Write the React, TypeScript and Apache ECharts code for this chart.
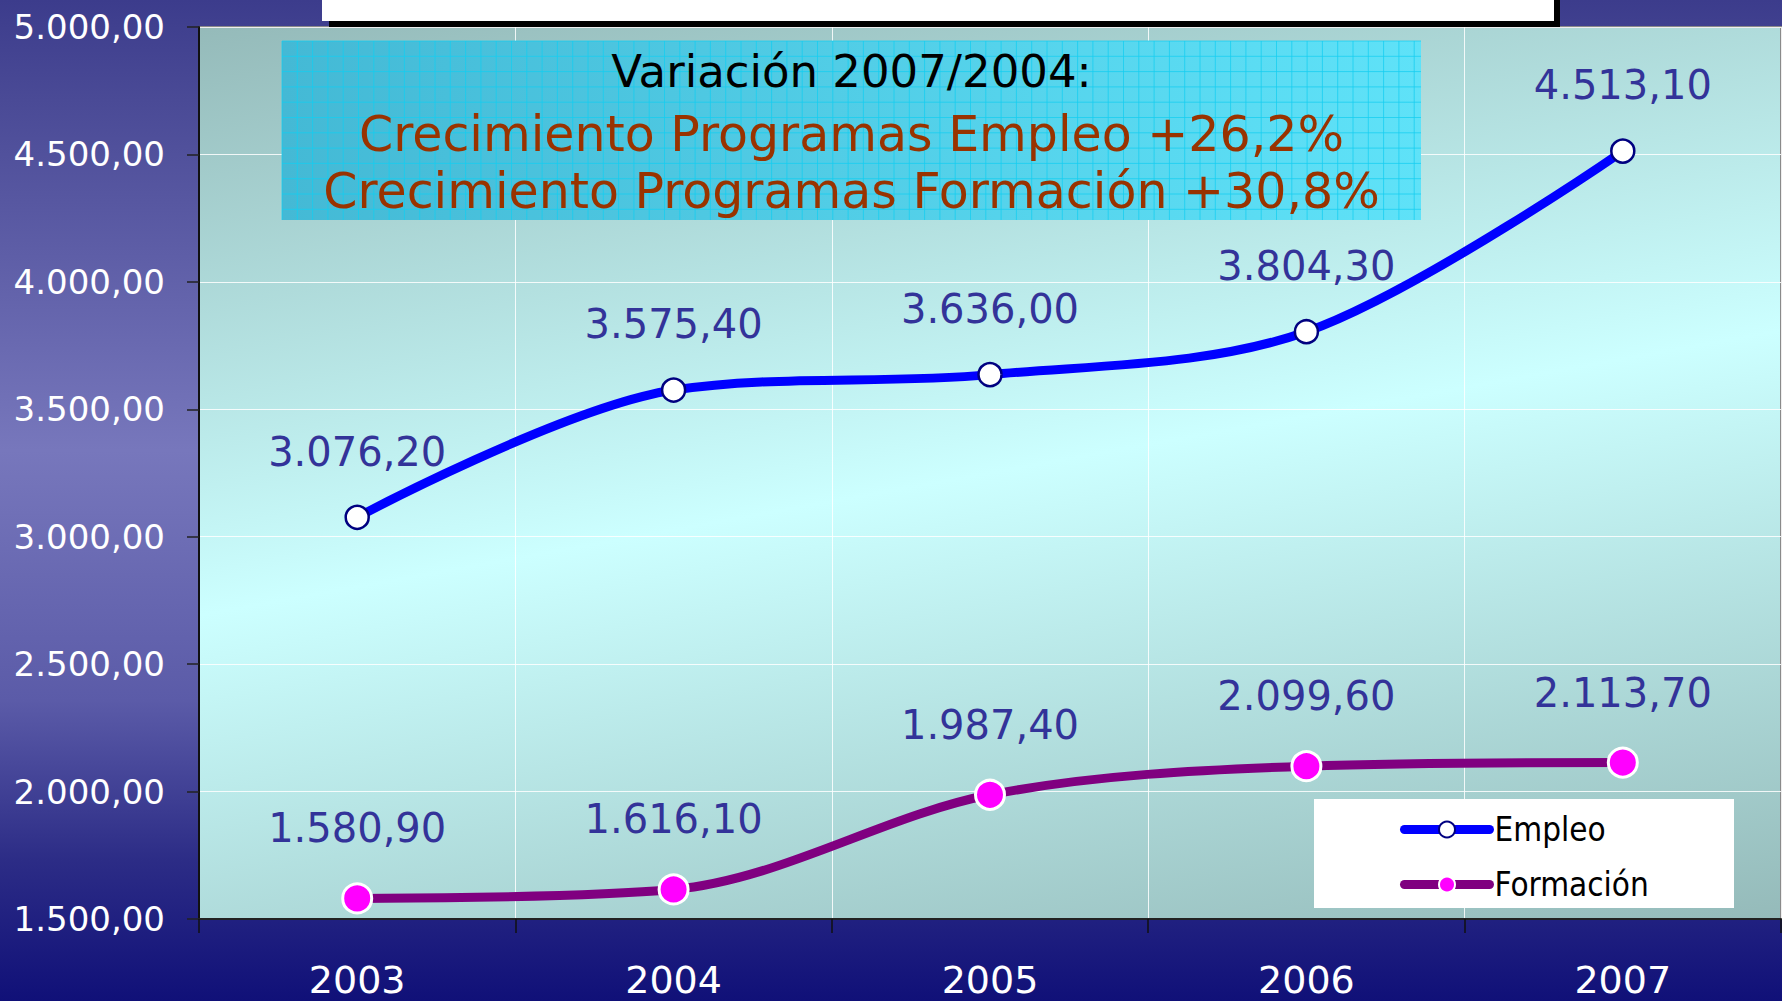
import React, { useEffect, useRef } from "react";
import * as echarts from "echarts";

const categories = ["2003", "2004", "2005", "2006", "2007"];
const empleo = [3076.2, 3575.4, 3636.0, 3804.3, 4513.1];
const formacion = [1580.9, 1616.1, 1987.4, 2099.6, 2113.7];
const yMin = 1500;
const yMax = 5000;
const yStep = 500;
const titleLine = "Variación 2007/2004:";
const growthLines = [
  "Crecimiento Programas Empleo +26,2%",
  "Crecimiento Programas Formación +30,8%",
];

function fmt(v: number): string {
  const [i, d] = v.toFixed(2).split(".");
  return i.replace(/\B(?=(\d{3})+(?!\d))/g, ".") + "," + d;
}

export default function App() {
  const ref = useRef<HTMLDivElement>(null);
  useEffect(() => {
    document.body.style.margin = "0";
    if (!ref.current) return;
    const chart = echarts.init(ref.current, undefined, { renderer: "svg" });

    // title box geometry
    const bx = 282, by = 41, bw = 1139, bh = 179;
    const patternEls: any[] = [];
    const step = 15.3;
    for (let x = bx; x <= bx + bw + 0.1; x += step) {
      patternEls.push({
        type: "line",
        z: 4,
        silent: true,
        shape: { x1: x, y1: by, x2: x, y2: by + bh },
        style: { stroke: "rgba(20,205,240,0.75)", lineWidth: 1 },
      });
    }
    for (let y = by; y <= by + bh + 0.1; y += step) {
      patternEls.push({
        type: "line",
        z: 4,
        silent: true,
        shape: { x1: bx, y1: y, x2: bx + bw, y2: y },
        style: { stroke: "rgba(20,205,240,0.75)", lineWidth: 1 },
      });
    }

    const font = '"DejaVu Sans", Verdana, sans-serif';

    chart.setOption({
      animation: false,
      backgroundColor: new echarts.graphic.LinearGradient(0, 0, 0, 1, [
        { offset: 0, color: "#3c3c8c" },
        { offset: 0.1, color: "#4a4a96" },
        { offset: 0.45, color: "#7777bc" },
        { offset: 0.7, color: "#5b5ba8" },
        { offset: 0.86, color: "#2c2c86" },
        { offset: 1, color: "#101078" },
      ]),
      grid: {
        left: 199,
        top: 27,
        right: 1,
        bottom: 82,
        show: true,
        borderColor: "#8a8a8a",
        borderWidth: 2,
        backgroundColor: new echarts.graphic.LinearGradient(0.258, -0.258, 0.742, 1.258, [
          { offset: 0, color: "#86a8a7" },
          { offset: 0.5, color: "#ccffff" },
          { offset: 1, color: "#86a8a7" },
        ]),
      },
      xAxis: {
        type: "category",
        data: categories,
        boundaryGap: true,
        axisLine: { show: true, lineStyle: { color: "#222", width: 2 } },
        axisTick: { show: true, length: 14, lineStyle: { color: "#111", width: 1.5 } },
        axisLabel: {
          color: "#ffffff",
          fontSize: 38,
          fontFamily: font,
          margin: 42,
        },
        splitLine: { show: true, lineStyle: { color: "rgba(255,255,255,0.85)", width: 1 } },
      },
      yAxis: {
        type: "value",
        min: yMin,
        max: yMax,
        interval: yStep,
        axisLine: { show: true, lineStyle: { color: "#111", width: 2 } },
        axisTick: { show: true, length: 12, lineStyle: { color: "#222", width: 1.5 } },
        axisLabel: {
          color: "#ffffff",
          fontSize: 34,
          fontFamily: font,
          margin: 34,
          formatter: (v: number) => fmt(v),
        },
        splitLine: { show: true, lineStyle: { color: "rgba(255,255,255,0.85)", width: 1 } },
      },
      legend: {
        data: ["Empleo", "Formación"],
        orient: "vertical",
        left: 1395,
        top: 808,
        itemWidth: 85,
        itemHeight: 20,
        itemGap: 22,
        z: 10,
        lineStyle: { width: 9, cap: "round" },
        itemStyle: { borderWidth: 2 },
        textStyle: {
          fontSize: 33,
          color: "#000000",
          fontFamily: '"DejaVu Sans Condensed", "DejaVu Sans", sans-serif',
        },
      },
      series: [
        {
          name: "Empleo",
          type: "line",
          data: empleo,
          smooth: 0.33,
          symbol: "circle",
          symbolSize: 23,
          lineStyle: { color: "#0000ff", width: 9, cap: "round" },
          itemStyle: { color: "#ffffff", borderColor: "#000080", borderWidth: 2.5 },
          label: {
            show: true,
            position: "top",
            distance: 33,
            color: "#333399",
            fontSize: 40,
            fontFamily: font,
            formatter: (p: any) => fmt(p.value),
          },
          z: 3,
        },
        {
          name: "Formación",
          type: "line",
          data: formacion,
          smooth: 0.33,
          symbol: "circle",
          symbolSize: 29,
          lineStyle: { color: "#800080", width: 9, cap: "round" },
          itemStyle: { color: "#ff00ff", borderColor: "#ffffff", borderWidth: 3 },
          label: {
            show: true,
            position: "top",
            distance: 34,
            color: "#333399",
            fontSize: 40,
            fontFamily: font,
            formatter: (p: any) => fmt(p.value),
          },
          z: 3,
        },
      ],
      graphic: [
        // top white box with dark shadow
        {
          type: "rect",
          z: 5,
          silent: true,
          shape: { x: 329, y: 0, width: 1231, height: 27 },
          style: { fill: "#000000" },
        },
        {
          type: "rect",
          z: 6,
          silent: true,
          shape: { x: 322, y: 0, width: 1232, height: 21 },
          style: { fill: "#ffffff" },
        },
        // title box
        {
          type: "rect",
          z: 3,
          silent: true,
          shape: { x: bx, y: by, width: bw, height: bh },
          style: {
            fill: new echarts.graphic.LinearGradient(0, 0, 1, 0, [
              { offset: 0, color: "#44b9d5" },
              { offset: 1, color: "#5fe2f8" },
            ]),
          },
        },
        ...patternEls,
        {
          type: "text",
          z: 6,
          silent: true,
          style: {
            text: titleLine,
            x: bx + bw / 2,
            y: 71,
            align: "center",
            verticalAlign: "middle",
            fill: "#000000",
            fontSize: 45,
            fontFamily: font,
          },
        },
        {
          type: "text",
          z: 6,
          silent: true,
          style: {
            text: growthLines[0],
            x: bx + bw / 2,
            y: 134,
            align: "center",
            verticalAlign: "middle",
            fill: "#993300",
            fontSize: 49,
            fontFamily: font,
          },
        },
        {
          type: "text",
          z: 6,
          silent: true,
          style: {
            text: growthLines[1],
            x: bx + bw / 2,
            y: 191,
            align: "center",
            verticalAlign: "middle",
            fill: "#993300",
            fontSize: 49,
            fontFamily: font,
          },
        },
        // legend box
        {
          type: "rect",
          z: 8,
          silent: true,
          shape: { x: 1314, y: 799, width: 420, height: 109 },
          style: { fill: "#ffffff" },
        },
      ],
    });
    return () => chart.dispose();
  }, []);
  return (
    <div
      ref={ref}
      style={{ width: 1782, height: 1001, position: "absolute", left: 0, top: 0 }}
    />
  );
}
